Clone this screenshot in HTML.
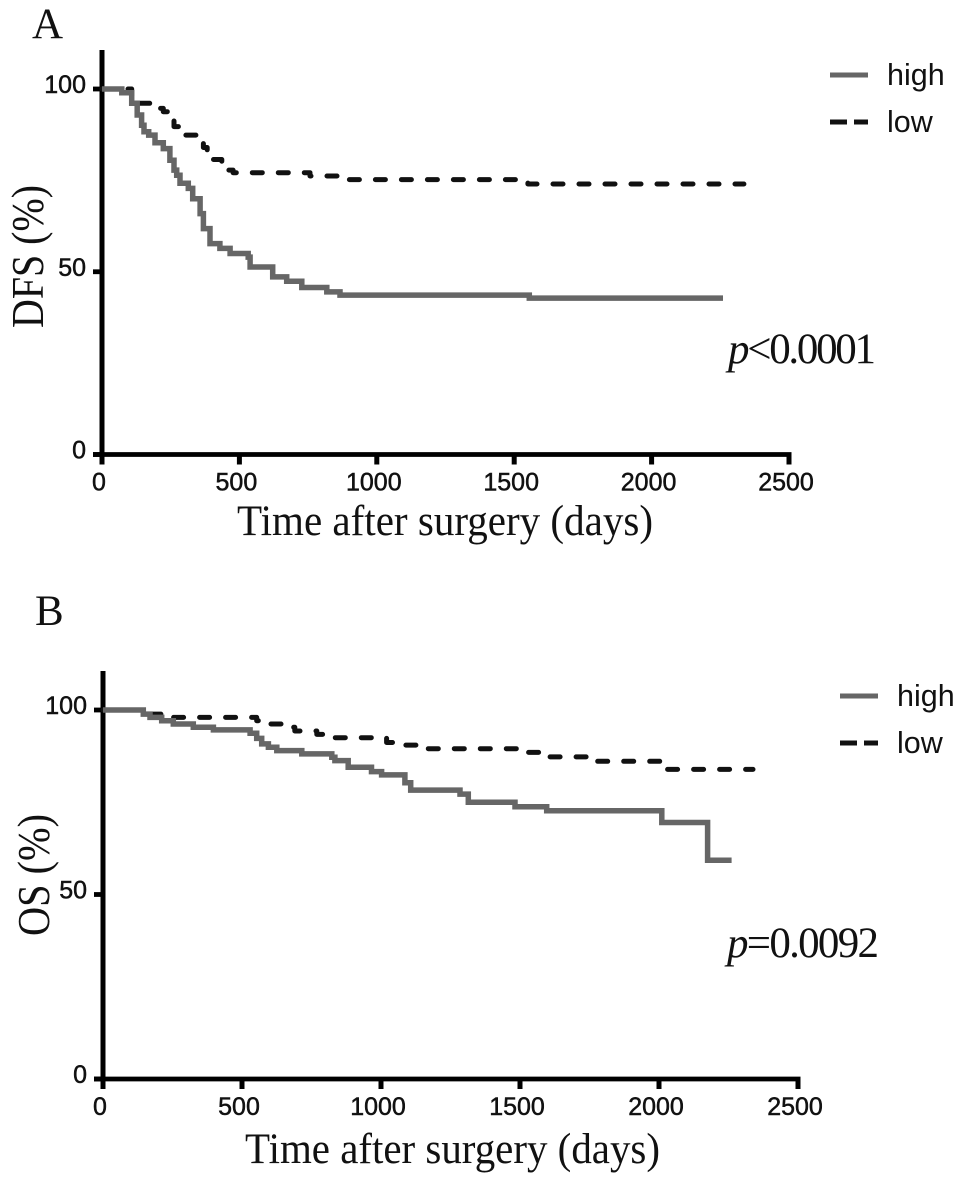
<!DOCTYPE html>
<html>
<head>
<meta charset="utf-8">
<style>
html,body{margin:0;padding:0;background:#fff;width:968px;height:1180px;overflow:hidden}
svg{display:block}
.tick{font-family:"Liberation Sans",sans-serif;font-size:25px;fill:#111;stroke:#111;stroke-width:.5px}
.leg{font-family:"Liberation Sans",sans-serif;font-size:30.5px;fill:#111}
.ttl{font-family:"Liberation Serif",serif;font-size:43px;fill:#111}
</style>
</head>
<body>
<svg id="fig" xmlns="http://www.w3.org/2000/svg" width="968" height="1180" viewBox="0 0 968 1180">
<text class="ttl" x="32" y="38">A</text>
<text class="ttl" x="35" y="625">B</text>
<text class="ttl" x="237" y="535" textLength="416" lengthAdjust="spacingAndGlyphs">Time after surgery (days)</text>
<text class="ttl" x="245" y="1163" textLength="415" lengthAdjust="spacingAndGlyphs">Time after surgery (days)</text>
<text class="ttl" transform="translate(43,328) rotate(-90)" style="font-size:45px" textLength="143" lengthAdjust="spacingAndGlyphs">DFS (%)</text>
<text class="ttl" transform="translate(49,936) rotate(-90)" style="font-size:45px" textLength="122" lengthAdjust="spacingAndGlyphs">OS (%)</text>
<text class="ttl" x="728" y="363" textLength="148" lengthAdjust="spacing"><tspan font-style="italic">p</tspan>&lt;0.0001</text>
<text class="ttl" x="727" y="957" textLength="152" lengthAdjust="spacing"><tspan font-style="italic">p</tspan>=0.0092</text>
<g id="panelA"></g>
<g id="panelB"></g>
</svg>
<script>
const xTicks = [0, 500, 1000, 1500, 2000, 2500];
const yTicks = [0, 50, 100];
const seriesNames = ['high', 'low'];

const highADays = [0, 72, 108, 128, 144, 153, 170, 193, 223, 247, 262, 272, 284, 314, 330, 357, 369, 393, 429, 466, 532, 539, 621, 672, 727, 818, 866, 1555, 2260];
const highAPct = [100, 99, 96.1, 92.9, 90.1, 88.3, 87.4, 85.3, 83.7, 80.5, 77.8, 76.4, 74.2, 72.8, 70, 65.9, 61.8, 57.7, 56.4, 55, 54, 51.3, 48.6, 47.4, 45.7, 44.5, 43.6, 42.8, 42.8];
const lowADays = [0, 108, 130, 175, 223, 257, 262, 290, 351, 369, 383, 400, 436, 454, 477, 757, 869, 1550, 2336];
const lowAPct = [100, 97.9, 96.1, 94.7, 93.8, 92.4, 89.7, 87.4, 86, 84, 81.9, 80.7, 79.6, 77.8, 77.1, 76.2, 75.2, 74, 74];

const highBDays = [0, 145, 169, 211, 253, 325, 397, 529, 553, 571, 595, 625, 715, 823, 834, 882, 966, 1002, 1086, 1107, 1284, 1314, 1482, 1596, 2010, 2175, 2261];
const highBPct = [100, 98.9, 98, 97.1, 96.2, 95.3, 94.6, 93.7, 92.3, 90.8, 89.9, 89, 88.1, 87.2, 86.3, 84.5, 83.3, 82.4, 80.3, 78.3, 77.2, 75, 73.8, 72.7, 69.5, 59.3, 59.3];
const lowBDays = [0, 163, 247, 553, 589, 685, 690, 769, 799, 1020, 1068, 1146, 1511, 1583, 1759, 2003, 2338];
const lowBPct = [100, 98.9, 98, 97.1, 96.2, 95.3, 94.3, 93.4, 92.5, 91.2, 90.5, 89.5, 88.5, 87.3, 86.1, 83.9, 83.9];

const NS = 'http://www.w3.org/2000/svg';

function add(parent, tag, attrs, text) {
  const el = document.createElementNS(NS, tag);
  for (const k in attrs) el.setAttribute(k, attrs[k]);
  if (text !== undefined) el.textContent = text;
  parent.appendChild(el);
  return el;
}

function stepPath(days, pct, sx, sy) {
  let d = 'M' + sx(days[0]) + ' ' + sy(pct[0]);
  for (let i = 1; i < days.length; i++) {
    d += 'H' + sx(days[i]).toFixed(1) + 'V' + sy(pct[i]).toFixed(1);
  }
  return d;
}

function drawPanel(g, cfg) {
  const sx = v => cfg.x0 + v * (cfg.x1 - cfg.x0) / 2500;
  const sy = v => cfg.y0 + v * (cfg.y100 - cfg.y0) / 100;

  const yAxis = add(g, 'line', {x1: cfg.x0, x2: cfg.x0, y1: cfg.yTop, y2: cfg.y0 + 10, stroke: '#000', 'stroke-width': 5});
  
  
  const xAxis = add(g, 'line', {x1: cfg.x0 - 9, x2: cfg.x1 + 2.5, y1: cfg.y0, y2: cfg.y0, stroke: '#000', 'stroke-width': 4.8});
  
  

  xTicks.forEach(t => {
    const mark = add(g, 'line', {x1: sx(t), x2: sx(t), y1: cfg.y0, y2: cfg.y0 + 10, stroke: '#000', 'stroke-width': 5});
    
    
    const label = add(g, 'text', {class: 'tick', x: sx(t) - 3, y: cfg.y0 + 36, 'text-anchor': 'middle'}, String(t));
    
    
  });

  yTicks.forEach(t => {
    const mark = add(g, 'line', {x1: cfg.x0 - 9, x2: cfg.x0, y1: sy(t), y2: sy(t), stroke: '#000', 'stroke-width': 4.8});
    
    
    const label = add(g, 'text', {class: 'tick', x: cfg.x0 - 16, y: sy(t) + 4, 'text-anchor': 'end'}, String(t));
    
    
  });

  const low = add(g, 'path', {d: stepPath(cfg.lowDays, cfg.lowPct, sx, sy), fill: 'none', stroke: '#111', 'stroke-width': 5, 'stroke-dasharray': '10 16', 'stroke-linecap': 'round', 'stroke-linejoin': 'round'});
  
  
  const high = add(g, 'path', {d: stepPath(cfg.highDays, cfg.highPct, sx, sy), fill: 'none', stroke: '#666', 'stroke-width': 5.5, 'stroke-linejoin': 'miter'});
  
  

  const lg = cfg.legend;
  const key1 = add(g, 'line', {x1: lg.x, x2: lg.x + 38, y1: lg.y1, y2: lg.y1, stroke: '#666', 'stroke-width': 5});
  
  
  const txt1 = add(g, 'text', {class: 'leg', x: lg.x + 57, y: lg.y1 + 10}, seriesNames[0]);
  
  
  const key2a = add(g, 'line', {x1: lg.x, x2: lg.x + 17, y1: lg.y2, y2: lg.y2, stroke: '#111', 'stroke-width': 5});
  
  
  const key2b = add(g, 'line', {x1: lg.x + 24, x2: lg.x + 38, y1: lg.y2, y2: lg.y2, stroke: '#111', 'stroke-width': 5});
  
  
  const txt2 = add(g, 'text', {class: 'leg', x: lg.x + 57, y: lg.y2 + 10}, seriesNames[1]);
  
  
}

drawPanel(document.getElementById('panelA'), {
  x0: 102, x1: 789, y0: 454.5, y100: 89, yTop: 50,
  highDays: highADays, highPct: highAPct, lowDays: lowADays, lowPct: lowAPct,
  legend: {x: 830, y1: 75, y2: 122}
});
drawPanel(document.getElementById('panelB'), {
  x0: 103, x1: 798, y0: 1079, y100: 710, yTop: 671,
  highDays: highBDays, highPct: highBPct, lowDays: lowBDays, lowPct: lowBPct,
  legend: {x: 840, y1: 696, y2: 743}
});
</script>
</body>
</html>
